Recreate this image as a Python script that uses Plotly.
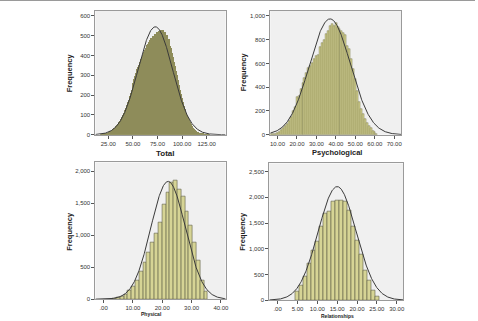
import numpy as np
import plotly.graph_objects as go

W, H = 478, 321

# ---------------- data ----------------
total_x = list(range(18, 129))
total_freq = [2, 3, 4, 5, 6, 8, 9, 11, 14, 17, 20, 24, 28, 32, 37, 43, 50, 57, 64, 72,
              80, 90, 102, 112, 125, 136, 150, 165, 178, 195, 210, 226, 245, 262, 280, 297,
              312, 330, 340, 355, 370, 385, 395, 405, 420, 430, 440, 455, 460, 470, 478, 488,
              470, 500, 485, 510, 495, 520, 500, 525, 505, 530, 510, 528, 500, 520, 490, 505,
              470, 485, 450, 440, 415, 395, 370, 345, 320, 300, 275, 250, 228, 205, 185, 165,
              146, 128, 112, 98, 85, 73, 63, 54, 46, 39, 33, 28, 23, 19, 16, 13, 11, 9, 7, 6,
              5, 4, 3, 2, 2, 1, 1]
total_fit = dict(mean=72.8, sd=17.5, area=23900.0)

psych_x = list(range(7, 62))
psych_freq = [3, 6, 10, 18, 28, 38, 55, 75, 92, 120, 150, 200, 235, 322, 330, 385, 440,
              480, 520, 565, 580, 605, 640, 660, 670, 740, 770, 800, 845, 870, 915, 935,
              915, 940, 905, 890, 870, 855, 840, 745, 720, 640, 550, 470, 370, 280, 220,
              175, 135, 100, 75, 55, 35, 20, 8]
psych_fit = dict(mean=37.0, sd=10.5, area=25660.0)

phys_x = [3.7, 5.0, 6.3, 7.6, 8.9, 10.2, 11.5, 12.8, 14.1, 15.4, 16.7, 18.0, 19.3, 20.6,
          21.9, 23.2, 24.5, 25.8, 27.1, 28.4, 29.7, 31.0, 32.3, 33.6, 34.9]
phys_freq = [10, 20, 40, 75, 130, 200, 300, 430, 580, 730, 880, 1030, 1200, 1480, 1660,
             1815, 1851, 1712, 1608, 1377, 1145, 886, 603, 294, 113]
phys_width = 1.3
phys_fit = dict(mean=22.0, sd=5.9, area=27200.0)

rel_x = list(range(5, 26))
rel_freq = [173, 288, 468, 718, 962, 1141, 1429, 1686, 1718, 1923, 1936, 1936, 1923,
            1744, 1442, 1154, 885, 577, 385, 192, 64]
rel_fit = dict(mean=15.0, sd=4.76, area=26370.0)

# tick labels
total_xt = [25, 50, 75, 100, 125]
total_xl = ["25.00", "50.00", "75.00", "100.00", "125.00"]
total_yt = [0, 100, 200, 300, 400, 500, 600]
total_yl = ["0", "100", "200", "300", "400", "500", "600"]

psych_xt = [10, 20, 30, 40, 50, 60, 70]
psych_xl = ["10.00", "20.00", "30.00", "40.00", "50.00", "60.00", "70.00"]
psych_yt = [0, 200, 400, 600, 800, 1000]
psych_yl = ["0", "200", "400", "600", "800", "1,000"]

phys_xt = [0, 10, 20, 30, 40]
phys_xl = [".00", "10.00", "20.00", "30.00", "40.00"]
phys_yt = [0, 500, 1000, 1500, 2000]
phys_yl = ["0", "500", "1,000", "1,500", "2,000"]

rel_xt = [0, 5, 10, 15, 20, 25, 30]
rel_xl = [".00", "5.00", "10.00", "15.00", "20.00", "25.00", "30.00"]
rel_yt = [0, 500, 1000, 1500, 2000, 2500]
rel_yl = ["0", "500", "1,000", "1,500", "2,000", "2,500"]

# ---------------- layout helpers ----------------
def hx(p):
    return p / W

def vy(p):
    return 1 - p / H

panels = [
    dict(x=total_x, y=total_freq, w=1.0, fit=total_fit, fill="#8e8c5a", lc="#a9a77a", lw=0.0,
         box=(96, 227, 11, 136), xr=[11.9, 144.2], yr=[0, 625],
         xt=total_xt, xl=total_xl, yt=total_yt, yl=total_yl,
         title="Total", tsize=8, tpos=(167, 155), fpos=(69.5, 74)),
    dict(x=psych_x, y=psych_freq, w=1.0, fit=psych_fit, fill="#cfcd88", lc="#6e6d48", lw=0.4,
         box=(272, 404, 11, 136), xr=[6.3, 73.7], yr=[0, 1042],
         xt=psych_xt, xl=psych_xl, yt=psych_yt, yl=psych_yl,
         title="Psychological", tsize=7.5, tpos=(339, 154), fpos=(244.5, 72)),
    dict(x=phys_x, y=phys_freq, w=phys_width, fit=phys_fit, fill="#d6d495", lc="#5e5e44", lw=0.6,
         box=(96, 227, 164, 302), xr=[-2.8, 41.6], yr=[0, 2135],
         xt=phys_xt, xl=phys_xl, yt=phys_yt, yl=phys_yl,
         title="Physical", tsize=5, tpos=(152.5, 317), fpos=(70.5, 234)),
    dict(x=rel_x, y=rel_freq, w=1.0, fit=rel_fit, fill="#d6d495", lc="#5e5e44", lw=0.6,
         box=(271, 406, 165, 303), xr=[-2.1, 31.7], yr=[0, 2660],
         xt=rel_xt, xl=rel_xl, yt=rel_yt, yl=rel_yl,
         title="Relationships", tsize=5, tpos=(339.3, 319), fpos=(244, 233.5)),
]

fig = go.Figure()
annotations = []
layout = dict(
    width=W, height=H, margin=dict(l=0, r=0, t=0, b=0),
    paper_bgcolor="white", plot_bgcolor="#f0f0f0",
    showlegend=False, bargap=0,
    font=dict(family="Liberation Sans, Arial, sans-serif", color="#222222"),
)

for i, p in enumerate(panels, start=1):
    xa = "x" if i == 1 else f"x{i}"
    ya = "y" if i == 1 else f"y{i}"
    fig.add_trace(go.Bar(
        x=p["x"], y=p["y"], width=[p["w"]] * len(p["x"]),
        marker=dict(color=p["fill"], line=dict(color=p["lc"], width=p["lw"])),
        xaxis=xa, yaxis=ya, hoverinfo="skip",
    ))
    f = p["fit"]
    xs = np.linspace(p["xr"][0], p["xr"][1], 400)
    ys = f["area"] / (f["sd"] * np.sqrt(2 * np.pi)) * np.exp(-0.5 * ((xs - f["mean"]) / f["sd"]) ** 2)
    fig.add_trace(go.Scatter(
        x=xs, y=ys, mode="lines", line=dict(color="#3a3a3a", width=1),
        xaxis=xa, yaxis=ya, hoverinfo="skip",
    ))
    l, r, t, b = p["box"]
    key_x = "xaxis" if i == 1 else f"xaxis{i}"
    key_y = "yaxis" if i == 1 else f"yaxis{i}"
    layout[key_x] = dict(
        domain=[hx(l), hx(r)], anchor=ya, range=p["xr"],
        tickvals=p["xt"], ticktext=p["xl"], ticks="outside", ticklen=3,
        tickcolor="#555555", tickwidth=0.8, tickfont=dict(size=6, color="#333333"),
        showgrid=False, zeroline=False, showline=True, linecolor="#9a9a9a", linewidth=1,
        mirror=True,
    )
    layout[key_y] = dict(
        domain=[vy(b), vy(t)], anchor=xa, range=p["yr"],
        tickvals=p["yt"], ticktext=p["yl"], ticks="outside", ticklen=3,
        tickcolor="#555555", tickwidth=0.8, tickfont=dict(size=6, color="#333333"),
        showgrid=False, zeroline=False, showline=True, linecolor="#9a9a9a", linewidth=1,
        mirror=True,
    )
    annotations.append(dict(
        text=f"<b>{p['title']}</b>", x=hx(p["tpos"][0]), y=vy(p["tpos"][1]),
        xref="paper", yref="paper", showarrow=False, xanchor="center", yanchor="middle",
        font=dict(size=p["tsize"], color="#222222"),
    ))
    annotations.append(dict(
        text="<b>Frequency</b>", x=hx(p["fpos"][0]), y=vy(p["fpos"][1]),
        xref="paper", yref="paper", showarrow=False, xanchor="center", yanchor="middle",
        textangle=-90, font=dict(size=7.5, color="#222222"),
    ))

layout["annotations"] = annotations
layout["shapes"] = [dict(type="line", xref="paper", yref="paper", x0=0, x1=1, y0=1, y1=1,
                         line=dict(color="#9a9a9a", width=2))]
fig.update_layout(**layout)
fig.write_html("out.html")
